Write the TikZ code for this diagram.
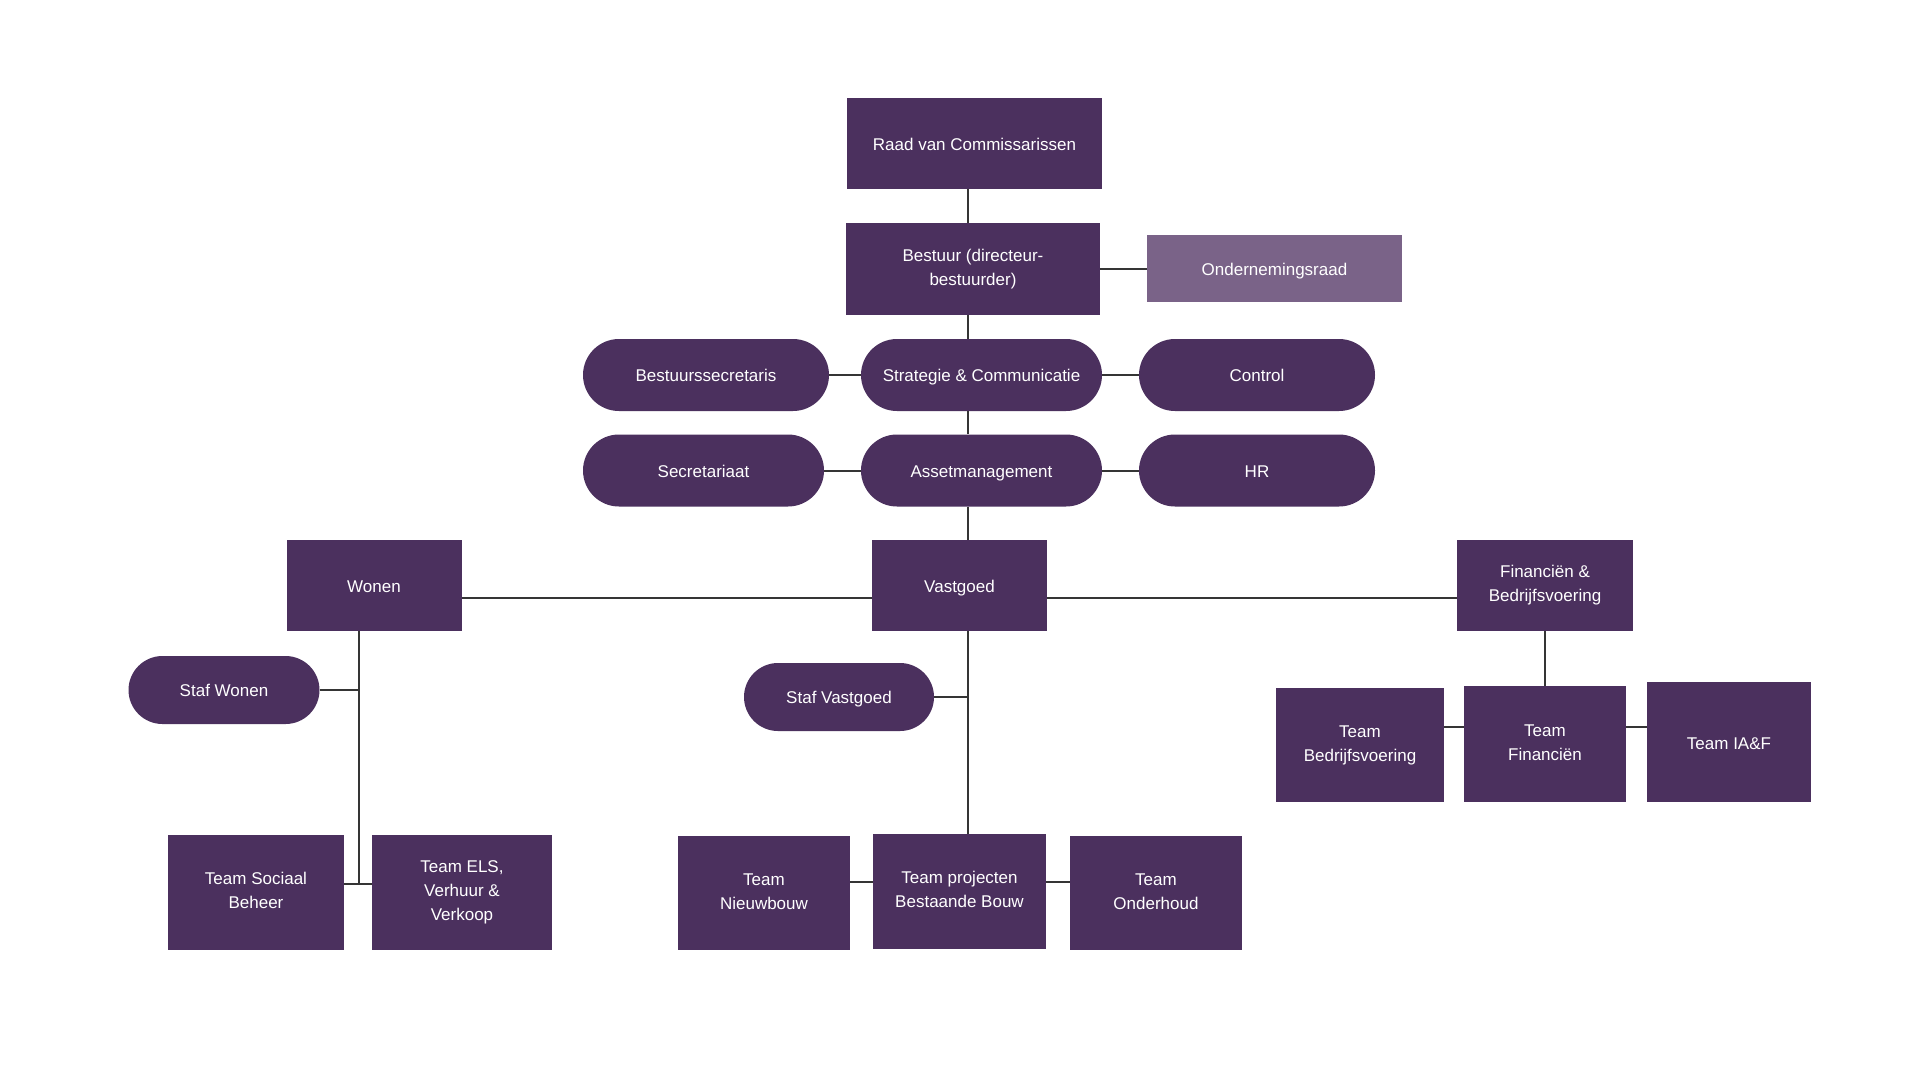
\documentclass[tikz,border=0pt]{standalone}
\usepackage{fontspec}
\setmainfont{Liberation Sans}
\usetikzlibrary{shapes.misc}
\definecolor{dpurple}{HTML}{4B305E}
\definecolor{lpurple}{HTML}{7A6388}
\definecolor{lineg}{HTML}{353535}
\begin{document}
\begin{tikzpicture}[x=1pt,y=-1pt,
  txt/.style={text=white, inner sep=0pt, align=center,
    font=\fontsize{17}{24}\selectfont,
    execute at begin node=\rule{0pt}{17.5pt}, execute at end node=\vphantom{gy}},
  box/.style={rectangle, fill=dpurple, txt},
  lbox/.style={box, fill=lpurple},
  pill/.style={rounded rectangle, fill=dpurple, txt},
  conn/.style={draw=lineg, line width=2pt}]
\useasboundingbox[fill=white] (0,0) rectangle (1920,1080);
% top spine
\coordinate (sp) at (968,0);
\node[box, minimum width=255pt, minimum height=91pt] (raad) at (974.5,143.5) {Raad van Commissarissen};
\node[box, minimum width=254pt, minimum height=92pt] (bestuur) at (973,269) {Bestuur (directeur-\\bestuurder)};
\node[lbox, minimum width=255pt, minimum height=67pt] (or) at (1274.5,268.5) {Ondernemingsraad};
\node[pill, minimum width=246pt, minimum height=72pt] (bsec) at (706,375) {Bestuurssecretaris};
\node[pill, minimum width=241pt, minimum height=72pt] (strat) at (981.5,375) {Strategie \& Communicatie};
\node[pill, minimum width=236pt, minimum height=72pt] (control) at (1257,375) {Control};
\node[pill, minimum width=241pt, minimum height=72pt] (secr) at (703.5,470.5) {Secretariaat};
\node[pill, minimum width=241pt, minimum height=72pt] (asset) at (981.5,470.5) {Assetmanagement};
\node[pill, minimum width=236pt, minimum height=72pt] (hr) at (1257,470.5) {HR};
% directors
\node[box, minimum width=175pt, minimum height=91pt] (wonen) at (374,585.5) {Wonen};
\node[box, minimum width=175pt, minimum height=91pt] (vast) at (959.5,585.5) {Vastgoed};
\node[box, minimum width=176pt, minimum height=91pt] (fin) at (1545,585.5) {Financiën \&\\Bedrijfsvoering};
% Wonen branch
\coordinate (wsp) at (359,0);
\node[pill, minimum width=191pt, minimum height=68pt] (stafw) at (224,690) {Staf Wonen};
\node[box, minimum width=176pt, minimum height=115pt] (sociaal) at (256,892.5) {Team Sociaal\\Beheer};
\node[box, minimum width=180pt, minimum height=115pt] (els) at (462,892.5) {Team ELS,\\Verhuur \&\\Verkoop};
% Vastgoed branch
\node[pill, minimum width=190pt, minimum height=68pt] (stafv) at (839,697) {Staf Vastgoed};
\node[box, minimum width=172pt, minimum height=114pt] (nieuw) at (764,893) {Team\\Nieuwbouw};
\node[box, minimum width=173pt, minimum height=115pt] (proj) at (959.5,891.5) {Team projecten\\Bestaande Bouw};
\node[box, minimum width=172pt, minimum height=114pt] (onder) at (1156,893) {Team\\Onderhoud};
% Financien branch
\node[box, minimum width=168pt, minimum height=114pt] (tbedr) at (1360,745) {Team\\Bedrijfsvoering};
\node[box, minimum width=162pt, minimum height=116pt] (tfin) at (1545,744) {Team\\Financiën};
\node[box, minimum width=164pt, minimum height=120pt] (tiaf) at (1729,742) {Team IA\&F};
% connectors
\draw[conn] (raad.south -| sp) -- (bestuur.north -| sp);
\draw[conn] (bestuur.east) -- (or.west |- bestuur.east);
\draw[conn] (bestuur.south -| sp) -- (strat.north -| sp);
\draw[conn] (bsec.east) -- (strat.west);
\draw[conn] (strat.east) -- (control.west);
\draw[conn] (strat.south -| sp) -- (asset.north -| sp);
\draw[conn] (secr.east) -- (asset.west);
\draw[conn] (asset.east) -- (hr.west);
\draw[conn] (asset.south -| sp) -- (vast.north -| sp);
\coordinate (hy) at (0,597.5);
\draw[conn] (wonen.east |- hy) -- (vast.west |- hy);
\draw[conn] (vast.east |- hy) -- (fin.west |- hy);
% Wonen
\coordinate (wy) at (0,884);
\draw[conn] (wonen.south -| wsp) -- (wy -| wsp);
\draw[conn] (stafw.east) -- (stafw.east -| wsp);
\draw[conn] (sociaal.east |- wy) -- (els.west |- wy);
% Vastgoed
\coordinate (vy) at (0,882);
\draw[conn] (vast.south -| sp) -- (proj.north -| sp);
\draw[conn] (stafv.east) -- (stafv.east -| sp);
\draw[conn] (nieuw.east |- vy) -- (proj.west |- vy);
\draw[conn] (proj.east |- vy) -- (onder.west |- vy);
% Financien
\coordinate (fy) at (0,727);
\draw[conn] (fin.south) -- (tfin.north);
\draw[conn] (tbedr.east |- fy) -- (tfin.west |- fy);
\draw[conn] (tfin.east |- fy) -- (tiaf.west |- fy);
\end{tikzpicture}
\end{document}
